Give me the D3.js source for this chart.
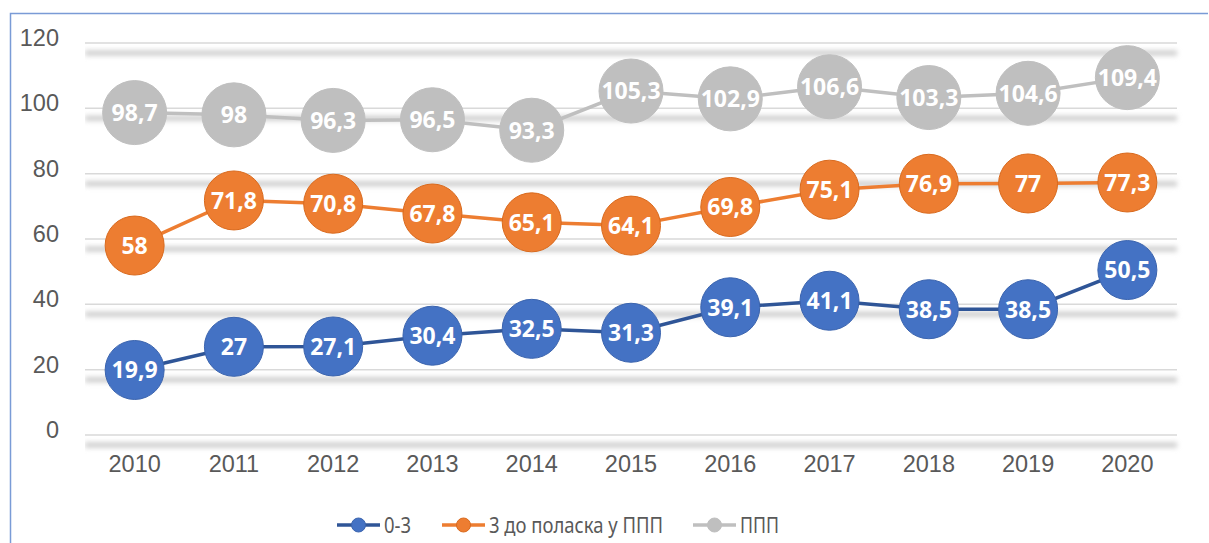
<!DOCTYPE html>
<html>
<head>
<meta charset="utf-8">
<script src="https://cdn.jsdelivr.net/npm/d3@7"></script>
<style>
  body { margin: 0; background: #fff; }
  svg { display: block; font-family: "Noto Sans", "Open Sans", sans-serif; }
</style>
</head>
<body>
<div id="chart"></div>
<script>
const years = ["2010", "2011", "2012", "2013", "2014", "2015", "2016", "2017", "2018", "2019", "2020"]
const series03 = [19.9, 27, 27.1, 30.4, 32.5, 31.3, 39.1, 41.1, 38.5, 38.5, 50.5]
const series3ppp = [58, 71.8, 70.8, 67.8, 65.1, 64.1, 69.8, 75.1, 76.9, 77, 77.3]
const seriesPpp = [98.7, 98, 96.3, 96.5, 93.3, 105.3, 102.9, 106.6, 103.3, 104.6, 109.4]
const yTicks = [0, 20, 40, 60, 80, 100, 120]
const seriesNames = ["0-3", "3 до поласка у ППП", "ППП"]

const W = 1209, H = 543
const margin = { left: 85, right: 32, top: 43, bottom: 108 }
const width = W - margin.left - margin.right
const height = H - margin.top - margin.bottom

const styles = [
    { fill: "#4472C4", stroke: "#3B64AE", line: "#2F5597", r: 29.5 },
    { fill: "#ED7D31", stroke: "#D96A1E", line: "#ED7D31", r: 29.5 },
    { fill: "#BFBFBF", stroke: "#BFBFBF", line: "#BFBFBF", r: 32 }
]
const allSeries = [series03, series3ppp, seriesPpp]

const svg = d3.select("#chart")
    .append("svg")
    .attr("width", W)
    .attr("height", H)

/* shadow filter for the grid lines */
const defs = svg.append("defs")
defs.append("filter")
    .attr("id", "grid-blur")
    .attr("filterUnits", "userSpaceOnUse")
    .attr("x", 0).attr("y", 0)
    .attr("width", W).attr("height", H)
    .append("feGaussianBlur")
    .attr("stdDeviation", 2.6)

/* frame */
svg.append("path")
    .attr("d", `M10.5,${H} V13.5 H1208`)
    .attr("fill", "none")
    .attr("stroke", "#7A9BD6")
    .attr("stroke-width", 1.5)

const g = svg.append("g")
    .attr("transform", `translate(${margin.left}, ${margin.top})`)

const x = d3.scaleBand()
    .domain(years)
    .range([0, width])
const y = d3.scaleLinear()
    .domain([0, 120])
    .range([height, 0])

const cx = d => x(d) + x.bandwidth() / 2

// grid lines with their soft shadow
g.append("g")
    .attr("filter", "url(#grid-blur)")
    .selectAll("line")
    .data(yTicks)
    .enter()
    .append("line")
    .attr("x1", 0)
    .attr("x2", width)
    .attr("y1", d => y(d) + 10)
    .attr("y2", d => y(d) + 10)
    .attr("stroke", "#CBCBCB")
    .attr("stroke-width", 5)

g.selectAll(".grid-line")
    .data(yTicks)
    .enter()
    .append("line")
    .attr("class", "grid-line")
    .attr("x1", 0)
    .attr("x2", width)
    .attr("y1", d => y(d))
    .attr("y2", d => y(d))
    .attr("stroke", "#D9D9D9")
    .attr("stroke-width", 1.5)

// y axis
const yAxis = g.append("g")
    .attr("transform", "translate(-26, 0)")
    .call(d3.axisLeft(y).tickValues(yTicks).tickSize(0).tickPadding(0))
yAxis.select(".domain").remove()
yAxis.selectAll("text")
    .attr("fill", "#595959")
    .style("font-size", "23.5px")
    .attr("dy", "0.1em")

// x axis
const xAxis = g.append("g")
    .attr("transform", `translate(0, ${height})`)
    .call(d3.axisBottom(x).tickSize(0).tickPadding(20))
xAxis.select(".domain").remove()
xAxis.selectAll("text")
    .attr("fill", "#595959")
    .style("font-size", "23.5px")

const line = d3.line()
    .x((d, i) => cx(years[i]))
    .y(d => y(d))

// draw in order: gray (back), orange, blue
const order = [2, 1, 0]
order.forEach(si => {
    const data = allSeries[si]
    const st = styles[si]
    const sg = g.append("g").attr("class", "series-" + si)

    sg.append("path")
        .datum(data)
        .attr("d", line)
        .attr("fill", "none")
        .attr("stroke", st.line)
        .attr("stroke-width", 3.5)

    sg.selectAll("circle")
        .data(data)
        .enter()
        .append("circle")
        .attr("cx", (d, i) => cx(years[i]))
        .attr("cy", d => y(d))
        .attr("r", st.r)
        .attr("fill", st.fill)
        .attr("stroke", st.stroke)
        .attr("stroke-width", 1)

    sg.selectAll("text")
        .data(data)
        .enter()
        .append("text")
        .attr("x", (d, i) => cx(years[i]))
        .attr("y", d => y(d))
        .attr("dy", "0.36em")
        .attr("text-anchor", "middle")
        .attr("fill", "#fff")
        .style("font-size", "23px")
        .style("font-weight", "bold")
        .text(d => String(d).replace(".", ","))
})

/* LEGEND */
const legendItems = [
    { x: 337, name: seriesNames[0], st: styles[0], len: 27 },
    { x: 442, name: seriesNames[1], st: styles[1], len: 174 },
    { x: 693, name: seriesNames[2], st: styles[2], len: 39 }
]
const legend = svg.append("g").attr("transform", "translate(0, 525)")
legendItems.forEach(it => {
    const lg = legend.append("g").attr("transform", `translate(${it.x}, 0)`)
    lg.append("line")
        .attr("x1", 0).attr("x2", 43)
        .attr("stroke", it.st.line)
        .attr("stroke-width", 3.5)
    lg.append("circle")
        .attr("cx", 21.5)
        .attr("r", 7)
        .attr("fill", it.st.fill)
        .attr("stroke", it.st.stroke)
    lg.append("text")
        .attr("x", 47)
        .attr("dy", "0.36em")
        .attr("fill", "#595959")
        .style("font-size", "21px")
        .attr("textLength", it.len)
        .attr("lengthAdjust", "spacingAndGlyphs")
        .text(it.name)
})
</script>
</body>
</html>
